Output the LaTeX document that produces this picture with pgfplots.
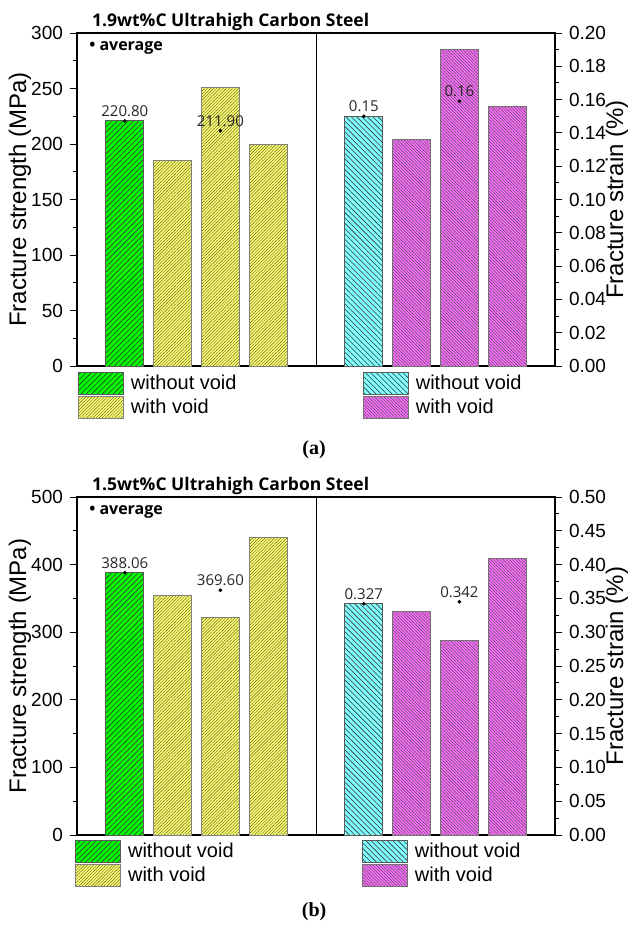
\documentclass[border=0pt]{standalone}
\usepackage{fontspec}
\setmainfont{Liberation Sans}
\newfontfamily\osans{Open Sans}
\newfontfamily\tnr{Liberation Serif}
\usepackage{pgfplots}
\pgfplotsset{compat=1.18}
\usetikzlibrary{patterns.meta}

\definecolor{cgreen}{RGB}{0,255,0}
\definecolor{cyellow}{RGB}{255,255,120}
\definecolor{colive}{RGB}{100,100,30}
\definecolor{ccyan}{RGB}{128,255,255}
\definecolor{cmag}{RGB}{255,110,255}

\pgfplotsset{
  greenbar/.style={fill=cgreen, draw=black!65, postaction={pattern={Lines[angle=45,distance=1.9pt,line width=0.3pt]}, pattern color=black!80}},
  yellowbar/.style={fill=cyellow, draw=black!50, postaction={pattern={Lines[angle=45,distance=1.1pt,line width=0.22pt]}, pattern color=colive}},
  cyanbar/.style={fill=ccyan, draw=black!65, postaction={pattern={Lines[angle=-45,distance=1.9pt,line width=0.3pt]}, pattern color=black!80}},
  magbar/.style={fill=cmag, draw=black!55, postaction={pattern={Lines[angle=-45,distance=1.1pt,line width=0.22pt]}, pattern color=black!70}},
  barplot/.style={ybar, bar width=0.8, bar shift=0pt, line width=0.5pt,
    legend image code/.code={\draw[##1, line width=0.5pt] (0pt,-5.5pt) rectangle (22.5pt,5.5pt);}},
  avgplot/.style={only marks, mark=*, mark size=0.7pt, black, forget plot,
    nodes near coords, point meta=explicit symbolic,
    nodes near coords style={font=\osans\fontsize{7.5}{9}\selectfont, anchor=south, inner sep=0.5pt, yshift=1.5pt, text=black!85}},
  base/.style={
    scale only axis, width=239pt, xmin=0, xmax=10, ymin=0, clip=false,
    tick align=outside, major tick length=3.5pt, minor tick length=2pt,
    tick style={black, line width=0.5pt},
    axis line style={line width=0.6pt},
    tick label style={font=\fontsize{9.5}{11}\selectfont},
    /pgf/number format/assume math mode=true,
    minor y tick num=1,
    label style={font=\fontsize{12}{14}\selectfont},
  },
  legsty/.style={legend cell align=left,
    legend style={anchor=north west, draw=none, fill=none, inner sep=0pt, outer sep=0pt, row sep=0.5pt,
      font=\fontsize{10}{12}\selectfont, nodes={inner sep=1pt},
      /tikz/every odd column/.append style={column sep=2.5pt}}},
  leftaxis/.style={base, legsty, ytick pos=left, xtick=\empty,
    extra x ticks={5}, extra x tick labels={},
    extra x tick style={grid=major, major grid style={black, line width=0.5pt}, major tick length=0pt},
    ylabel={Fracture strength (MPa)},
    ylabel style={at={(axis description cs:0,0.5)}, anchor=center, yshift=28.5pt},
    every axis title shift=0pt,
    title style={at={(axis description cs:0.017,1)}, anchor=base west, yshift=3.5pt, font=\osans\bfseries\fontsize{8.75}{10}\selectfont},
    xlabel style={at={(axis description cs:0.496,0)}, anchor=center, font=\tnr\bfseries\fontsize{10}{12}\selectfont},
  },
  rightaxis/.style={base, legsty, axis y line*=right, axis x line=none,
    ylabel={Fracture strain (\%)},
    ylabel style={at={(axis description cs:1,0.5)}, anchor=center, yshift=-31pt},
    yticklabel style={/pgf/number format/.cd, fixed, fixed zerofill, precision=2},
  },
}

\begin{document}
\begin{tikzpicture}
\path[use as bounding box] (0pt,0pt) rectangle (313.5pt,-468.5pt);

% ---------------- (a) ----------------
\begin{axis}[leftaxis, at={(38.5pt,-183pt)}, anchor=south west, height=166.5pt,
  ymax=300, ytick={0,50,100,150,200,250,300},
  title={1.9wt\%C Ultrahigh Carbon Steel},
  xlabel={(a)}, xlabel style={yshift=-42pt},
  legend style={at={(axis description cs:0.002,-0.018)}}]
\addplot[barplot, greenbar] coordinates {(1,220.8)};
\addlegendentry{without void}
\addplot[barplot, yellowbar] coordinates {(2,185.5) (3,250.5) (4,199.7)};
\addlegendentry{with void}
\addplot[avgplot] coordinates {(1,220.8)[220.80] (3,211.9)[211.90]};
\node[anchor=west, inner sep=0pt, font=\osans\bfseries\fontsize{8}{9}\selectfont] at (axis description cs:0.025,0.955) {\textbullet\ average};
\end{axis}
\begin{axis}[rightaxis, at={(38.5pt,-183pt)}, anchor=south west, height=166.5pt,
  ymax=0.2, ytick={0,0.02,0.04,0.06,0.08,0.10,0.12,0.14,0.16,0.18,0.20},
  legend style={at={(axis description cs:0.598,-0.018)}}]
\addplot[barplot, cyanbar] coordinates {(6,0.150)};
\addlegendentry{without void}
\addplot[barplot, magbar] coordinates {(7,0.136) (8,0.190) (9,0.156)};
\addlegendentry{with void}
\addplot[avgplot] coordinates {(6,0.150)[0.15] (8,0.159)[0.16]};
\end{axis}

% ---------------- (b) ----------------
\begin{axis}[leftaxis, at={(38.5pt,-417.5pt)}, anchor=south west, height=169pt,
  ymax=500, ytick={0,100,200,300,400,500},
  title={1.5wt\%C Ultrahigh Carbon Steel},
  xlabel={(b)}, xlabel style={yshift=-38.5pt},
  legend style={at={(axis description cs:-0.004,-0.015)}}]
\addplot[barplot, greenbar] coordinates {(1,388.06)};
\addlegendentry{without void}
\addplot[barplot, yellowbar] coordinates {(2,355) (3,322.5) (4,439.5)};
\addlegendentry{with void}
\addplot[avgplot] coordinates {(1,388.06)[388.06] (3,362)[369.60]};
\node[anchor=west, inner sep=0pt, font=\osans\bfseries\fontsize{8}{9}\selectfont] at (axis description cs:0.025,0.956) {\textbullet\ average};
\end{axis}
\begin{axis}[rightaxis, at={(38.5pt,-417.5pt)}, anchor=south west, height=169pt,
  ymax=0.5, ytick={0,0.05,0.10,0.15,0.20,0.25,0.30,0.35,0.40,0.45,0.50},
  legend style={at={(axis description cs:0.596,-0.015)}}]
\addplot[barplot, cyanbar] coordinates {(6,0.342)};
\addlegendentry{without void}
\addplot[barplot, magbar] coordinates {(7,0.331) (8,0.287) (9,0.409)};
\addlegendentry{with void}
\addplot[avgplot] coordinates {(6,0.342)[0.327] (8,0.345)[0.342]};
\end{axis}
\end{tikzpicture}
\end{document}
